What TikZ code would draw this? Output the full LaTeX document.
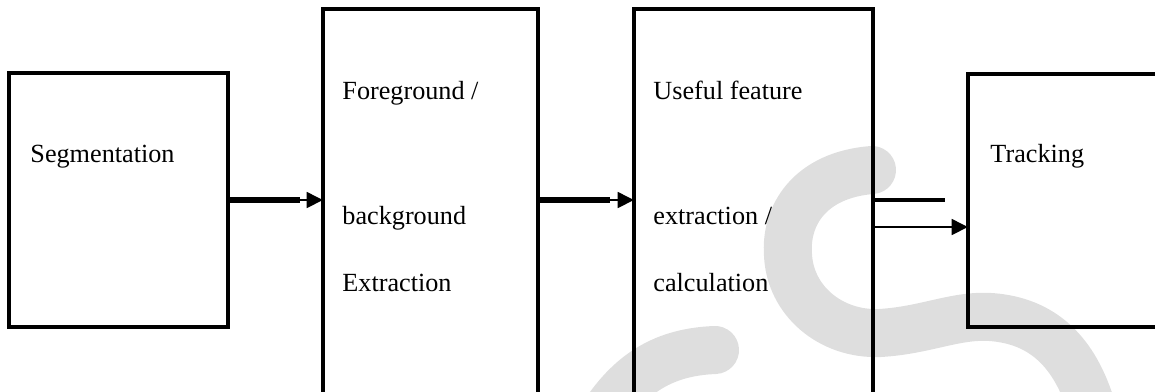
\documentclass[tikz,border=0pt]{standalone}
\usepackage{fontspec}
\setmainfont{Liberation Serif}
\usetikzlibrary{positioning,arrows.meta}
\definecolor{wmark}{HTML}{DEDEDE}

\begin{document}
\begin{tikzpicture}
    [x=0.458pt,y=-0.458pt,
     box/.style={draw, line width=1.4pt, anchor=north west, inner sep=0pt, outer sep=0pt},
     lbl/.style={anchor=base west, inner sep=0pt, font=\fontsize{12}{14}\selectfont},
     link/.style={line width=1.2pt, -{Triangle[length=7.5pt,width=7.2pt]}},
     heavy/.style={line width=2.3pt}]
  \useasboundingbox (0,0) rectangle (1155,391);
  \clip (0,0) rectangle (1155,391);

  \draw[wmark, line width=22pt, line cap=round]
    (872,170) .. controls (810,175) and (785,215) .. (788,255)
    .. controls (790,300) and (830,335) .. (880,333)
    .. controls (930,330) and (960,312) .. (1000,318)
    .. controls (1050,325) and (1080,360) .. (1095,420);
  \draw[wmark, line width=22pt, line cap=round]
    (600,420) .. controls (630,372) and (665,352) .. (715,350);

  \node[box, minimum width=219*0.458pt, minimum height=254*0.458pt] (seg) at (9,73) {};
  \node[box, minimum width=215*0.458pt, minimum height=420*0.458pt] (fg) at (323,9) {};
  \node[box, minimum width=239*0.458pt, minimum height=420*0.458pt] (feat) at (634,9) {};
  \node[box, minimum width=250*0.458pt, minimum height=253*0.458pt] (track) at (968,74) {};

  \node[lbl] (t1) at (30,162) {Segmentation};
  \node[lbl] (t2) at (342,99) {Foreground /};
  \node[lbl] (t3) at (342,224) {background};
  \node[lbl] (t4) at (342,291) {Extraction};
  \node[lbl] (t5) at (653,99) {Useful feature};
  \node[lbl] (t6) at (653,224) {extraction /};
  \node[lbl] (t7) at (653,291) {calculation};
  \node[lbl] (t8) at (990,162) {Tracking};

  \coordinate (split1) at (300,200);
  \coordinate (split2) at (610,200);
  \coordinate (stub) at (945,200);
  \coordinate (out) at (871,227);

  \draw[heavy] (seg.east) -- (split1);
  \draw[link] (seg.east) -- (seg.east -| fg.west);
  \draw[heavy] (fg.east |- split2) -- (split2);
  \draw[link] (fg.east |- split2) -- (feat.west |- split2);
  \draw[line width=1.4pt] (feat.east |- stub) -- (stub);
  \draw[link] (out) -- (out -| track.west);
\end{tikzpicture}
\end{document}
